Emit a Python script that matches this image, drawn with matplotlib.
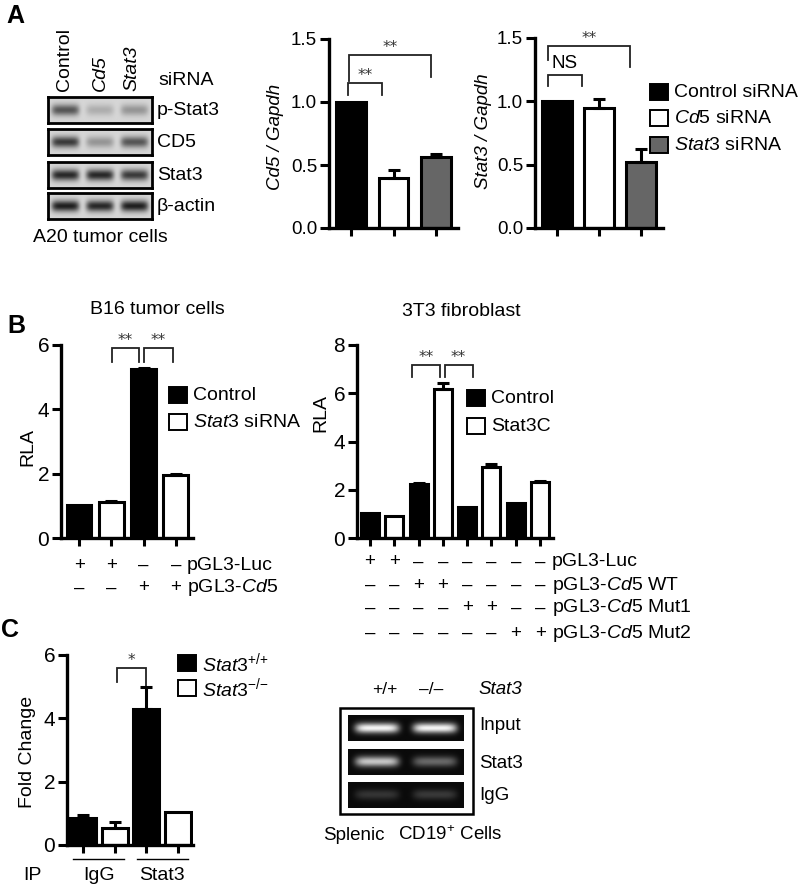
import numpy as np
import matplotlib
matplotlib.use('Agg')
import matplotlib.pyplot as plt
from matplotlib.patches import Rectangle
from matplotlib import transforms

plt.rcParams['font.family'] = ['Liberation Sans', 'DejaVu Sans']
plt.rcParams['mathtext.fontset'] = 'custom'
plt.rcParams['mathtext.rm'] = 'Liberation Sans'
plt.rcParams['mathtext.it'] = 'Liberation Sans:italic'
plt.rcParams['mathtext.bf'] = 'Liberation Sans:bold'

# ---- data ----
# A: western blot (band strength 0..1) and qPCR
blot_lanes = ['Control', 'Cd5', 'Stat3']
blot_rows = ['p-Stat3', 'CD5', 'Stat3', 'β-actin']
blot_levels = [[0.70, 0.22, 0.35],
               [0.85, 0.35, 0.70],
               [0.95, 0.95, 0.85],
               [1.00, 0.95, 1.00]]
sirna_labels = ['Control siRNA', r'$\mathit{Cd5}$ siRNA', r'$\mathit{Stat3}$ siRNA']
sirna_colors = ['black', 'white', '#666666']
cd5_mrna = [1.00, 0.40, 0.56]
cd5_err = [0.0, 0.06, 0.03]
stat3_mrna = [1.00, 0.95, 0.52]
stat3_err = [0.0, 0.07, 0.10]

# B: luciferase (RLA)
b16_rla = [1.02, 1.12, 5.25, 1.95]
b16_err = [0.0, 0.03, 0.03, 0.04]
b16_colors = ['black', 'white', 'black', 'white']
b16_legend = ['Control', r'$\mathit{Stat3}$ siRNA']
b16_rows = ['pGL3-Luc', r'pGL3-$\mathit{Cd5}$']
b16_signs = [['+', '+', '–', '–'],
             ['–', '–', '+', '+']]

t3_rla = [1.04, 0.92, 2.24, 6.18, 1.29, 2.95, 1.44, 2.32]
t3_err = [0.0, 0.0, 0.02, 0.25, 0.0, 0.10, 0.0, 0.03]
t3_colors = ['black', 'white'] * 4
t3_legend = ['Control', 'Stat3C']
t3_rows = ['pGL3-Luc', r'pGL3-$\mathit{Cd5}$ WT', r'pGL3-$\mathit{Cd5}$ Mut1', r'pGL3-$\mathit{Cd5}$ Mut2']
t3_signs = [['+', '+', '–', '–', '–', '–', '–', '–'],
            ['–', '–', '+', '+', '–', '–', '–', '–'],
            ['–', '–', '–', '–', '+', '+', '–', '–'],
            ['–', '–', '–', '–', '–', '–', '+', '+']]

# C: ChIP
chip_fold = [0.85, 0.54, 4.30, 1.04]
chip_err = [0.10, 0.19, 0.70, 0.0]
chip_colors = ['black', 'white', 'black', 'white']
chip_legend = [r'$\mathit{Stat3}^{{+}/{+}}$', r'$\mathit{Stat3}^{{-}/{-}}$']
chip_groups = ['IgG', 'Stat3']
gel_lanes = ['+/+', '–/–']
gel_rows = ['Input', 'Stat3', 'IgG']
gel_levels = [[1.00, 1.00],
              [0.80, 0.40],
              [0.18, 0.20]]

W, H = 800, 886
FS = 13.5
fig = plt.figure(figsize=(W / 100, H / 100), dpi=100)
ov = fig.add_axes([0, 0, 1, 1])
ov.set_xlim(0, W)
ov.set_ylim(H, 0)
ov.axis('off')


def px_axes(x0, y0, x1, y1):
    return fig.add_axes([x0 / W, 1 - y1 / H, (x1 - x0) / W, (y1 - y0) / H])


def band_image(levels, nx=240, ny=40, half=0.40, thick=0.22):
    n = len(levels)
    xs = np.linspace(0, n, nx)
    ys = np.linspace(-0.5, 0.5, ny)
    img = np.zeros((ny, nx))
    for i, lv in enumerate(levels):
        px = np.exp(-np.abs((xs - (i + 0.5)) / half) ** 6)
        py = np.exp(-(ys / thick) ** 2)
        img += lv * np.outer(py, px)
    return np.clip(img, 0, 1)


def bar_chart(rect, values, errs, colors, xlim, width, ylim, yticks, fmt, tfs=FS):
    ax = px_axes(*rect)
    x = np.arange(len(values))
    ax.bar(x, values, width=width, color=colors, edgecolor='black', linewidth=2.2, zorder=2)
    errs = np.array(errs)
    m = errs > 0
    ax.errorbar(x[m], np.array(values)[m], yerr=[np.zeros(m.sum()), errs[m]], fmt='none',
                ecolor='black', elinewidth=2.2, capsize=4, capthick=2.2, zorder=3)
    ax.set_xlim(*xlim)
    ax.set_ylim(*ylim)
    ax.set_yticks(yticks)
    ax.set_yticklabels([fmt % t for t in yticks])
    ax.set_xticks(x)
    ax.set_xticklabels([])
    for s in ['top', 'right']:
        ax.spines[s].set_visible(False)
    for s in ['left', 'bottom']:
        ax.spines[s].set_linewidth(2.4)
    ax.tick_params(axis='y', length=6.5, width=2.2, pad=2, labelsize=tfs)
    ax.tick_params(axis='x', length=6, width=2.2)
    ax.patch.set_alpha(0)
    return ax


def bracket(ax, xl, xr, top, yl, yr, label, star=True):
    ax.plot([xl, xl, xr, xr], [yl, top, top, yr], color='#222222', lw=1.3,
            clip_on=False, solid_joinstyle='miter')
    if star:
        ax.text((xl + xr) / 2, top, label, ha='center', va='bottom', fontsize=11,
                color='#333333', family='DejaVu Sans')


def legend_box(x, y, color, label, w=18, h=16):
    ov.add_patch(Rectangle((x, y - h / 2), w, h, facecolor=color, edgecolor='black', lw=1.4))
    ov.text(x + w + 6, y, label, ha='left', va='center', fontsize=FS + 0.5)


def sign_rows(ax, signs, labels, ys, label_x):
    tr = transforms.blended_transform_factory(ax.transData, ov.transData)
    for row, lab, y in zip(signs, labels, ys):
        for i, s in enumerate(row):
            ov.text(i, y, s, transform=tr, ha='center', va='center', fontsize=FS)
        ov.text(label_x, y, lab, ha='left', va='center', fontsize=FS + 0.5)


# ---------------- panel A ----------------
ov.text(15, 16, 'A', fontsize=18, fontweight='bold', ha='center', va='center')
blot_boxes = [(97, 123), (129, 155), (162, 188), (193, 219)]
for lv, (y0, y1), name in zip(blot_levels, blot_boxes, blot_rows):
    bx = px_axes(48, y0, 152, y1)
    img = 0.84 - 0.72 * band_image(lv)
    bx.imshow(img, cmap='gray', vmin=0, vmax=1, aspect='auto', extent=(0, 3, 0, 1),
              interpolation='bilinear')
    bx.set_xticks([])
    bx.set_yticks([])
    for s in bx.spines.values():
        s.set_linewidth(2)
    ov.text(157, (y0 + y1) / 2, name, ha='left', va='center', fontsize=FS + 0.5)
for lane, x in zip(blot_lanes, [64, 100, 132]):
    ov.text(x, 91, lane, rotation=90, ha='center', va='bottom', fontsize=FS + 0.5,
            fontstyle='normal' if lane == 'Control' else 'italic')
ov.text(158, 80, 'siRNA', ha='left', va='center', fontsize=FS + 0.5)
ov.text(100, 237, 'A20 tumor cells', ha='center', va='center', fontsize=FS + 0.5)

a1 = bar_chart((329, 39, 458, 228), cd5_mrna, cd5_err, sirna_colors, (-0.52, 2.52), 0.70,
               (0, 1.5), [0, 0.5, 1.0, 1.5], '%.1f')
bracket(a1, -0.07, 0.73, 1.15, 1.055, 1.055, '**')
bracket(a1, -0.05, 1.88, 1.37, 1.17, 1.20, '**')
ov.text(275, 137, 'Cd5 / Gapdh', rotation=90, ha='center', va='center', fontsize=FS, fontstyle='italic')

a2 = bar_chart((535, 38, 663, 228), stat3_mrna, stat3_err, sirna_colors, (-0.52, 2.52), 0.70,
               (0, 1.5), [0, 0.5, 1.0, 1.5], '%.1f')
bracket(a2, -0.21, 0.59, 1.21, 1.12, 1.12, 'NS', star=False)
a2.text(0.19, 1.235, 'NS', ha='center', va='bottom', fontsize=FS)
bracket(a2, -0.21, 1.74, 1.44, 1.33, 1.27, '**')
ov.text(483, 131, 'Stat3 / Gapdh', rotation=90, ha='center', va='center', fontsize=FS, fontstyle='italic')
for y, c, lab in zip([92, 118, 145], sirna_colors, sirna_labels):
    legend_box(650, y, c, lab)

# ---------------- panel B ----------------
ov.text(16, 326, 'B', fontsize=18, fontweight='bold', ha='center', va='center')
b1 = bar_chart((61, 345, 193, 538), b16_rla, b16_err, b16_colors, (-0.56, 3.53), 0.77,
               (0, 6), [0, 2, 4, 6], '%d', tfs=15)
bracket(b1, 1.02, 1.86, 5.9, 5.47, 5.47, '**')
bracket(b1, 2.01, 2.91, 5.9, 5.47, 5.47, '**')
ov.text(157, 310, 'B16 tumor cells', ha='center', va='center', fontsize=FS + 0.5)
ov.text(28, 447, 'RLA', rotation=90, ha='center', va='center', fontsize=FS + 0.5)
for y, c, lab in zip([395, 422], ['black', 'white'], b16_legend):
    legend_box(169, y, c, lab)
sign_rows(b1, b16_signs, b16_rows, [565, 588], 187)

b2 = bar_chart((357, 345, 553, 538), t3_rla, t3_err, t3_colors, (-0.53, 7.53), 0.74,
               (0, 8), [0, 2, 4, 6, 8], '%d', tfs=15)
bracket(b2, 1.72, 2.87, 7.18, 6.68, 6.68, '**')
bracket(b2, 3.07, 4.22, 7.18, 6.68, 6.68, '**')
ov.text(461, 312, '3T3 fibroblast', ha='center', va='center', fontsize=FS + 0.5)
ov.text(321, 413, 'RLA', rotation=90, ha='center', va='center', fontsize=FS + 0.5)
for y, c, lab in zip([398, 426], ['black', 'white'], t3_legend):
    legend_box(467, y, c, lab)
sign_rows(b2, t3_signs, t3_rows, [562, 585, 608, 633], 552)

# ---------------- panel C ----------------
ov.text(10, 630, 'C', fontsize=18, fontweight='bold', ha='center', va='center')
c1 = bar_chart((67, 655, 193, 845), chip_fold, chip_err, chip_colors, (-0.5, 3.47), 0.82,
               (0, 6), [0, 2, 4, 6], '%d', tfs=15)
bracket(c1, 1.07, 1.99, 5.58, 5.14, 4.98, '*')
ov.text(27, 752, 'Fold Change', rotation=90, ha='center', va='center', fontsize=FS + 0.5)
for y, c, lab in zip([663, 688], ['black', 'white'], chip_legend):
    legend_box(178, y, c, lab)
trc = transforms.blended_transform_factory(c1.transData, ov.transData)
for g, grp in enumerate(chip_groups):
    ov.plot([2 * g - 0.3, 2 * g + 1.3], [859, 859], color='black', lw=1.0, transform=trc)
    ov.text(2 * g + 0.5, 876, grp, transform=trc, ha='center', va='center', fontsize=FS + 0.5)
ov.text(32, 876, 'IP', ha='center', va='center', fontsize=FS + 0.5)

# ChIP gel
ov.add_patch(Rectangle((340, 708), 133, 106, facecolor='white', edgecolor='black', lw=1.8))
for lv, (y0, y1) in zip(gel_levels, [(715, 741), (749, 775), (782, 808)]):
    gx = px_axes(348, y0, 464, y1)
    img = 0.04 + 0.92 * band_image(lv, half=0.38, thick=0.2)
    gx.imshow(img, cmap='gray', vmin=0, vmax=1, aspect='auto', extent=(0, 2, 0, 1),
              interpolation='bilinear')
    gx.set_xticks([])
    gx.set_yticks([])
    for s in gx.spines.values():
        s.set_visible(False)
for lane, x in zip(gel_lanes, [385, 431]):
    ov.text(x, 689, lane, ha='center', va='center', fontsize=FS - 1)
ov.text(478, 689, 'Stat3', ha='left', va='center', fontsize=FS, fontstyle='italic')
for name, y in zip(gel_rows, [726, 763, 796]):
    ov.text(479, y, name, ha='left', va='center', fontsize=FS)
ov.text(323, 835, 'Splenic', ha='left', va='center', fontsize=FS)
ov.text(398, 835, r'CD19$^{+}$ Cells', ha='left', va='center', fontsize=FS)

fig.savefig('out.png', dpi=100)
